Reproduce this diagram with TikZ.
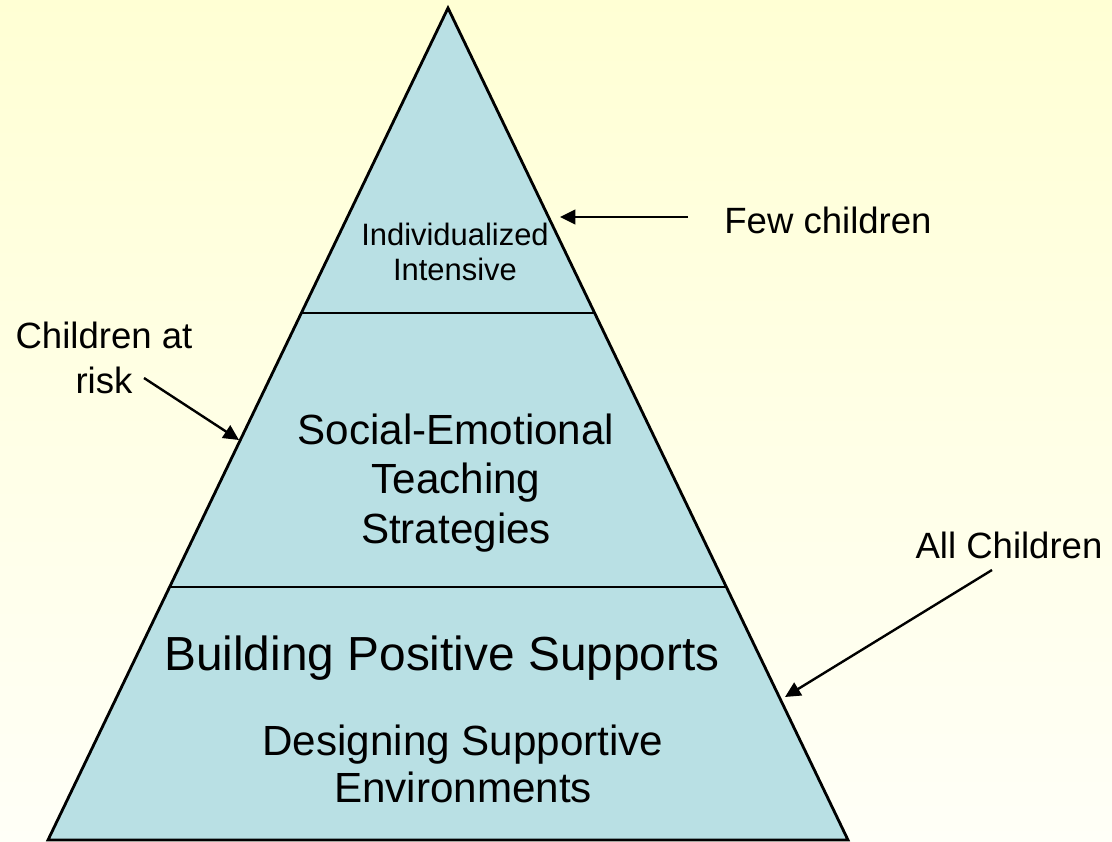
\documentclass[tikz,border=0pt]{standalone}
\usepackage{fontspec}
\setmainfont{Liberation Sans}
\usetikzlibrary{arrows.meta,calc}
\definecolor{paper}{RGB}{255,255,212}
\definecolor{paperlow}{RGB}{255,255,247}
\definecolor{tier}{RGB}{185,224,228}

\begin{document}
\begin{tikzpicture}[x=0.025cm, y=-0.025cm,
  outline/.style={line width=2pt},
  pointer/.style={line width=1.7pt, -{Triangle[length=11pt,width=10.5pt]}},
  tiertext/.style={align=center, inner sep=0pt},
  side/.style={align=center, inner sep=0pt, font=\fontsize{26}{32}\selectfont}]
\shade[top color=paper, bottom color=paperlow] (0,0) rectangle (1112,842);
\useasboundingbox (0,0) rectangle (1112,842);

\coordinate (apex) at (448,8);
\coordinate (bl) at (48,840);
\coordinate (br) at (848,840);
\draw[outline, fill=tier] (apex) -- (bl) -- (br) -- cycle;
\draw[outline] ($(apex)!{305/832}!(bl)$) -- ($(apex)!{305/832}!(br)$);
\draw[outline] ($(apex)!{579/832}!(bl)$) -- ($(apex)!{579/832}!(br)$);

\node[tiertext, font=\fontsize{22}{25.5}\selectfont] (top) at (455,252) {Individualized\\Intensive};
\node[tiertext, font=\fontsize{30}{35.4}\selectfont] (mid) at (456,483) {Social-Emotional\\Teaching\\Strategies};
\node[tiertext, font=\fontsize{34}{40}\selectfont] (base) at (442,658) {Building Positive Supports};
\node[tiertext, font=\fontsize{30}{33.3}\selectfont] (env) at (463,764) {Designing Supportive\\Environments};

\node[side] (few) at (828,220) {Few children};
\node[side] (risk) at (104,358) {Children at\\risk};
\node[side] (all) at (1009,545) {All Children};

\coordinate (fewtail) at (688,217);
\coordinate (fewtip) at (560,217);
\coordinate (risktail) at (144,378);
\coordinate (risktip) at (239,440);
\coordinate (alltail) at (992,570);
\coordinate (alltip) at (785,697);
\draw[pointer] (fewtail) -- (fewtip);
\draw[pointer] (risktail) -- (risktip);
\draw[pointer] (alltail) -- (alltip);
\end{tikzpicture}
\end{document}
